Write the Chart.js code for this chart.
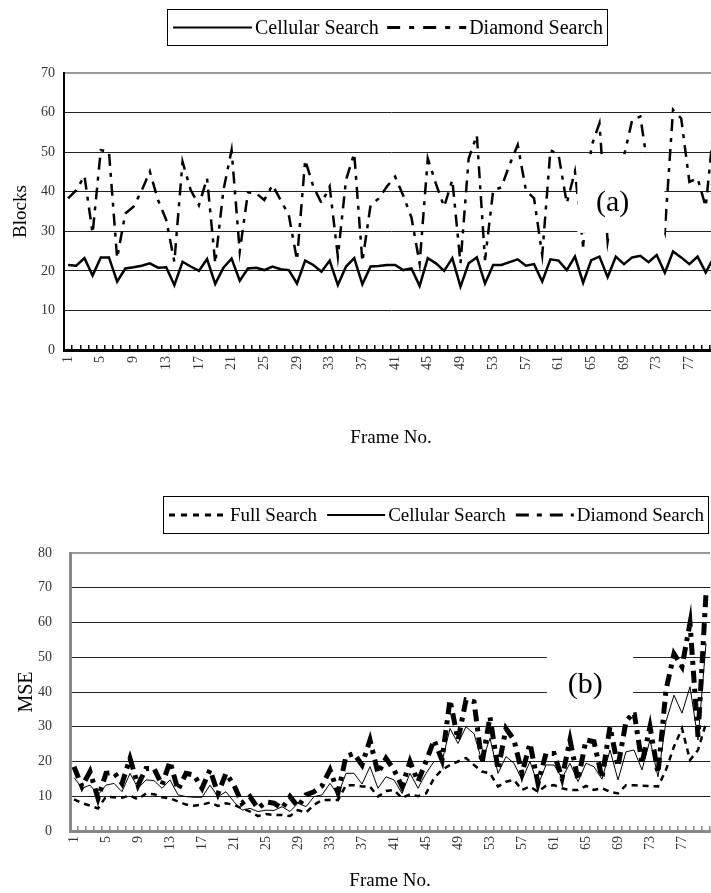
<!DOCTYPE html>
<html>
<head>
<meta charset="utf-8">
<script src="https://cdn.jsdelivr.net/npm/chart.js@4.4.1/dist/chart.umd.min.js"></script>
<style>
html, body { margin: 0; padding: 0; overflow: hidden; background: #fff; }
#wrapA { position: absolute; left: 0; top: 0; }
#wrapB { position: absolute; left: 0; top: 450px; }
</style>
</head>
<body>
<div id="wrapA"><canvas id="chartA" width="720" height="450"></canvas></div>
<div id="wrapB"><canvas id="chartB" width="711" height="443"></canvas></div>
<script>
const frames = ['1','2','3','4','5','6','7','8','9','10','11','12','13','14','15','16','17','18','19','20',
  '21','22','23','24','25','26','27','28','29','30','31','32','33','34','35','36','37','38','39','40',
  '41','42','43','44','45','46','47','48','49','50','51','52','53','54','55','56','57','58','59','60',
  '61','62','63','64','65','66','67','68','69','70','71','72','73','74','75','76','77','78','79','80'];

// (a) searched blocks per frame
const cellularBlocks = [21.5,21.3,23.2,18.8,23.4,23.4,17.3,20.6,20.9,21.3,
  21.9,20.8,20.9,16.4,22.3,21.1,20.0,23.0,16.7,20.8,
  23.1,17.5,20.6,20.8,20.2,21.1,20.4,20.2,16.8,22.6,
  21.5,19.8,22.6,16.4,21.1,23.2,16.6,21.1,21.2,21.5,
  21.5,20.2,20.6,16.2,23.2,21.9,20.0,23.2,16.0,21.9,
  23.4,16.8,21.5,21.5,22.2,22.9,21.3,21.7,17.3,22.9,
  22.6,20.2,23.6,17.0,22.7,23.6,18.4,23.6,21.7,23.4,
  23.8,22.2,24.0,19.5,24.9,23.4,21.7,23.6,19.6,23.5];
const diamondBlocks = [38.3,40.4,44.0,29.5,50.5,50.1,23.2,34.5,36.2,40.3,
  45.1,37.9,32.9,22.3,47.6,40.4,36.6,43.4,21.9,40.4,
  50.5,24.9,39.8,39.6,37.9,41.7,37.9,34.1,22.7,48.0,
  41.3,37.1,41.3,23.6,43.0,49.7,22.3,36.6,38.3,41.3,
  43.8,39.0,33.5,21.9,48.4,42.0,36.2,43.0,21.9,48.4,
  54.3,22.7,40.4,41.1,46.8,51.8,40.4,38.3,24.0,50.5,
  49.3,37.1,45.1,26.1,51.4,57.3,27.4,40.0,49.0,58.1,
  59.0,45.0,38.0,30.0,60.7,58.5,42.5,43.4,36.2,57.0];

// (b) MSE per frame
const fullMSE = [9.1,8.0,7.3,6.5,9.9,9.7,9.6,10.2,9.1,10.8,
  10.6,9.7,9.4,8.5,7.6,7.3,7.6,8.2,7.2,8.0,
  7.5,6.5,5.6,4.3,4.9,4.6,4.6,4.3,6.0,5.3,
  7.5,8.9,8.9,8.9,13.2,13.2,12.8,12.8,9.9,11.5,
  11.8,9.5,10.6,10.0,10.8,15.2,17.6,19.0,20.0,21.0,
  19.0,17.1,16.6,12.8,14.2,14.7,11.8,12.8,11.3,13.0,
  13.2,12.3,11.8,11.8,13.0,11.8,12.3,11.3,10.8,13.2,
  13.2,13.0,12.9,12.8,17.6,24.3,29.5,20.4,23.3,31.0];
const cellularMSE = [15.4,12.3,13.2,10.4,13.2,13.7,11.3,16.6,12.3,14.7,
  14.5,12.3,14.7,10.4,9.9,9.7,9.7,13.2,9.9,11.3,
  8.4,6.0,6.5,5.6,6.0,5.9,7.0,5.6,8.0,7.0,
  9.9,10.4,13.7,10.4,16.6,16.6,13.5,18.5,12.3,15.6,
  14.7,10.8,16.6,12.3,16.6,20.0,20.0,29.5,25.2,30.0,
  28.0,20.0,26.7,16.6,21.4,19.5,14.7,20.0,13.2,19.0,
  19.0,15.2,19.5,14.2,19.5,18.5,14.9,23.3,14.7,22.8,
  23.3,17.6,26.2,15.6,31.5,39.1,33.9,41.5,26.2,54.0];
const diamondMSE = [18.5,12.8,17.1,9.4,16.6,16.9,13.7,20.9,13.2,18.0,
  18.0,13.2,20.0,11.8,16.6,16.1,12.3,17.6,10.8,16.6,
  13.2,8.0,9.9,6.5,8.4,8.0,6.5,9.9,7.0,10.4,
  11.3,13.0,17.6,11.0,21.5,22.3,19.0,26.2,16.6,20.9,
  17.6,12.8,20.0,14.2,20.0,26.2,20.4,37.7,26.2,37.7,
  37.2,19.5,32.9,17.6,29.5,26.2,16.6,25.2,13.7,22.3,
  22.3,15.2,26.2,14.7,26.2,25.7,15.2,30.0,18.5,31.5,
  34.3,19.5,30.0,16.6,40.6,51.0,47.3,59.8,27.1,68.4];

const blockTicks = [0, 10, 20, 30, 40, 50, 60, 70];
const mseTicks = [0, 10, 20, 30, 40, 50, 60, 70, 80];

const serif = "'Liberation Serif', 'DejaVu Serif', serif";

// boxed legend drawn above the plot
const legendBox = {
  id: 'legendBox',
  afterDraw(chart, args, o) {
    const ctx = chart.ctx;
    ctx.save();
    ctx.strokeStyle = '#000';
    ctx.lineWidth = 1;
    ctx.setLineDash([]);
    ctx.strokeRect(o.left + 0.5, o.top + 0.5, o.width, o.height);
    ctx.font = o.font;
    ctx.fillStyle = '#000';
    ctx.textBaseline = 'middle';
    const sets = chart.data.datasets;
    const widths = sets.map(d => ctx.measureText(d.label).width);
    const content = widths.reduce((a, w) => a + w + o.sample + o.textGap, 0);
    const gap = (o.width - o.padLeft - o.padRight - content) / (sets.length - 1);
    const y = o.top + o.height / 2 + 0.5;
    let x = o.left + o.padLeft;
    sets.forEach((d, i) => {
      ctx.beginPath();
      ctx.setLineDash(d.legendDash || d.borderDash || []);
      ctx.lineWidth = d.legendWidth || d.borderWidth;
      ctx.moveTo(x, y);
      ctx.lineTo(x + o.sample, y);
      ctx.stroke();
      ctx.setLineDash([]);
      ctx.fillText(d.label, x + o.sample + o.textGap, y + 1);
      x += o.sample + o.textGap + widths[i] + gap;
    });
    ctx.restore();
  }
};

// white tag "(a)" / "(b)" sitting on the plot
const panelTag = {
  id: 'panelTag',
  afterDatasetsDraw(chart, args, o) {
    const {ctx, scales: {x, y}} = chart;
    const x0 = x.getPixelForValue(o.from), x1 = x.getPixelForValue(o.to);
    const y0 = y.getPixelForValue(o.high), y1 = y.getPixelForValue(o.low);
    ctx.save();
    ctx.fillStyle = '#fff';
    ctx.fillRect(x0, y0, x1 - x0, y1 - y0);
    ctx.fillStyle = '#000';
    ctx.font = o.font;
    ctx.textAlign = 'center';
    ctx.textBaseline = 'middle';
    ctx.fillText(o.text, x.getPixelForValue(o.textAt[0]), y.getPixelForValue(o.textAt[1]));
    ctx.restore();
  }
};

function frameAxis(axisColor, axisWidth, labelPad, height) {
  return {
    type: 'category',
    offset: true,
    grid: { drawOnChartArea: false, drawTicks: true, tickLength: -5, color: axisColor, lineWidth: 1.5, offset: true },
    border: { color: axisColor, width: axisWidth },
    ticks: {
      autoSkip: false, minRotation: 90, maxRotation: 90, padding: labelPad,
      color: '#333', font: { family: serif, size: 14 },
      callback: function (v, i) { return i % 4 === 0 ? this.getLabelForValue(v) : ''; }
    },
    title: { display: true, text: 'Frame No.', color: '#000', font: { family: serif, size: 19 }, padding: { top: 0, bottom: 1 } },
    afterFit: s => { s.height = height; s.paddingLeft = 0; s.paddingRight = 0; }
  };
}

function valueAxis(name, tickList, topColor, axisColor, axisWidth, labelPad, titlePad, titleSize, width) {
  const top = tickList[tickList.length - 1];
  return {
    min: 0, max: top,
    afterBuildTicks: s => { s.ticks = tickList.map(v => ({ value: v })); },
    grid: {
      drawTicks: false,
      color: c => c.tick && c.tick.value === top ? topColor : '#222',
      lineWidth: c => c.tick && c.tick.value === top ? 2 : 1
    },
    border: { color: axisColor, width: axisWidth },
    ticks: { padding: labelPad, color: '#333', font: { family: serif, size: 14 } },
    title: { display: true, text: name, color: '#000', font: { family: serif, size: titleSize }, padding: { top: titlePad, bottom: 0 } },
    afterFit: s => { s.width = width; s.paddingTop = 0; s.paddingBottom = 0; }
  };
}

new Chart(document.getElementById('chartA'), {
  type: 'line',
  data: {
    labels: frames,
    datasets: [
      { label: 'Cellular Search', data: cellularBlocks, borderColor: '#000', borderWidth: 2.5, legendWidth: 2 },
      { label: 'Diamond Search', data: diamondBlocks, borderColor: '#000', borderWidth: 2.5, borderDash: [12, 7, 4, 7], legendDash: [13, 9, 5, 9], legendWidth: 3 }
    ]
  },
  options: {
    responsive: false,
    animation: false,
    devicePixelRatio: 1,
    layout: { padding: { top: 73, left: 0, right: 2, bottom: 0 } },
    elements: { point: { radius: 0 }, line: { tension: 0, fill: false, borderCapStyle: 'butt' } },
    plugins: {
      legend: { display: false },
      tooltip: { enabled: false },
      legendBox: { left: 167, top: 9, width: 440, height: 36, sample: 79, textGap: 3, padLeft: 6, padRight: 4, font: '20px ' + serif },
      panelTag: { from: 62.3, to: 72.95, high: 49.5, low: 29.6, text: '(a)', textAt: [66.6, 37.2], font: '30px ' + serif }
    },
    scales: {
      x: frameAxis('#000', 3, 11, 100),
      y: valueAxis('Blocks', blockTicks, '#999', '#000', 2, 9, 10, 19, 64)
    }
  },
  plugins: [legendBox, panelTag]
});

new Chart(document.getElementById('chartB'), {
  type: 'line',
  data: {
    labels: frames,
    datasets: [
      { label: 'Full Search', data: fullMSE, borderColor: '#000', borderWidth: 2.5, borderDash: [6, 5], legendDash: [6, 6], legendWidth: 3 },
      { label: 'Cellular Search', data: cellularMSE, borderColor: '#000', borderWidth: 1, legendWidth: 2 },
      { label: 'Diamond Search', data: diamondMSE, borderColor: '#000', borderWidth: 5, borderDash: [12, 6, 4, 6], legendDash: [13, 8, 5, 8], legendWidth: 3 }
    ]
  },
  options: {
    responsive: false,
    animation: false,
    devicePixelRatio: 1,
    layout: { padding: { top: 103, left: 0, right: 1, bottom: 0 } },
    elements: { point: { radius: 0 }, line: { tension: 0, fill: false, borderCapStyle: 'butt' } },
    plugins: {
      legend: { display: false },
      tooltip: { enabled: false },
      legendBox: { left: 163, top: 46, width: 545, height: 37, sample: 58, textGap: 3, padLeft: 6, padRight: 4, font: '19px ' + serif },
      panelTag: { from: 59.1, to: 69.9, high: 57.8, low: 33.4, text: '(b)', textAt: [63.9, 42], font: '30px ' + serif }
    },
    scales: {
      x: frameAxis('#888', 3, 10, 62),
      y: valueAxis('MSE', mseTicks, '#999', '#888', 3, 18, 15, 20, 70)
    }
  },
  plugins: [legendBox, panelTag]
});
</script>
</body>
</html>
